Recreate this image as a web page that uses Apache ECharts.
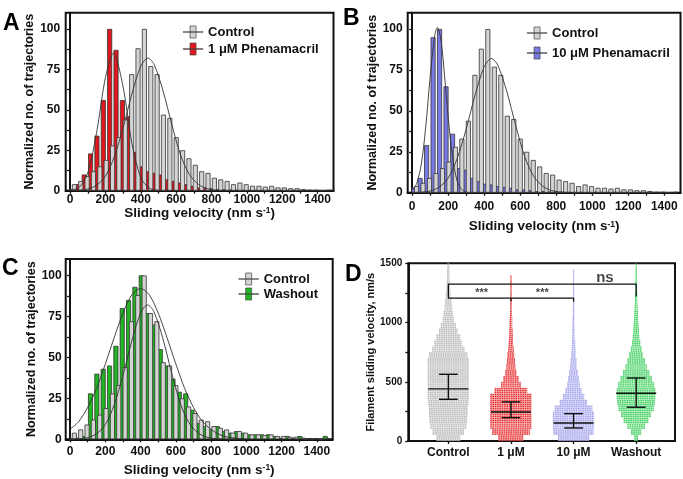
<!DOCTYPE html>
<html>
<head>
<meta charset="utf-8">
<script src="https://cdn.jsdelivr.net/npm/echarts@6/dist/echarts.min.js"></script>
<style>
  html, body { margin: 0; padding: 0; background: #fff; }
  #chart { width: 683px; height: 479px; }
</style>
</head>
<body>
<div id="chart"></div>
<script>
// histogram bin centres (nm/s), shared by panels A-C
const bins = [16, 52, 88, 124, 160, 196, 232, 268, 304, 340, 376, 412, 448, 484, 520, 556, 592, 628, 664, 700,
  736, 772, 808, 844, 880, 916, 952, 988, 1024, 1060, 1096, 1132, 1168, 1204, 1240, 1276, 1312, 1348, 1384, 1420, 1456];

const control = [4, 6, 9, 12, 15, 19, 28, 33, 44, 72, 88, 100, 77, 72, 47, 45, 33, 25, 20, 16,
  12, 11, 8, 7, 6, 4, 5, 4, 3, 3, 2.5, 3, 2, 2, 1.5, 1.5, 1, 0.5, 0.5, 0, 0.5];
const phen1 = [1, 4, 10, 23, 34, 56, 100, 87, 56, 46, 24, 15, 12, 11, 10, 7, 6, 5, 4, 3,
  2, 2, 1.5, 1, 1, 0.5, 0.5, 0.3, 0.3, 0, 0, 0, 0.3, 0, 0, 0, 0, 0, 0, 0, 0];
const phen10 = [3, 9, 29, 95, 100, 65, 36, 15, 14, 9, 7, 5.5, 5, 4, 3.5, 3, 2, 2, 1.5, 1,
  1, 0.5, 0.5, 0.3, 0.3, 0, 0, 0, 0, 0, 0, 0, 0, 0, 0, 0, 0, 0, 0, 0, 0];
const washout = [0, 1, 2, 28, 40, 43, 45, 57, 80, 85, 93, 100, 77, 70, 55, 45, 37, 29, 28, 18,
  10, 8, 6, 8, 5, 4, 5, 4, 3, 3, 3, 3, 2, 1, 2, 1, 2, 0, 0, 0, 2];

// gaussian fit curves [velocity, value]
const fitControl = [[0, 0.1], [50, 0.3], [100, 1], [150, 3.4], [200, 9], [250, 21], [300, 39], [350, 60], [400, 77],
  [440, 82], [475, 78], [525, 62], [575, 41], [625, 22], [675, 10], [725, 4], [775, 1.3], [850, 0.2], [950, 0]];
const fitPhen1 = [[0, 0.3], [50, 2], [100, 11], [150, 36], [200, 70], [245, 85], [300, 64], [350, 29], [400, 8], [450, 1.5], [500, 0.2]];
const fitPhen10 = [[0, 1.4], [25, 5.7], [50, 17], [75, 40], [100, 71], [125, 96], [140, 101], [160, 93], [180, 71],
  [200, 46], [225, 21], [250, 7], [275, 2], [300, 0.4]];
const fitWashout = [[0, 6], [50, 11], [100, 19.5], [150, 31], [200, 46], [250, 62], [300, 77], [350, 88], [400, 92],
  [450, 88], [500, 77], [550, 62], [600, 46], [650, 31], [700, 19.5], [750, 11], [800, 6], [850, 2.8], [900, 1.2], [1000, 0.2]];

const xTicks = [0, 100, 200, 300, 400, 500, 600, 700, 800, 900, 1000, 1100, 1200, 1300, 1400];
const xLabels = [0, 200, 400, 600, 800, 1000, 1200, 1400];
const yTicks = [0, 12.5, 25, 37.5, 50, 62.5, 75, 87.5, 100];
const yLabels = [0, 25, 50, 75, 100];

// panel D: swarm half-widths (category units) per 50 nm/s band
const groups = ['Control', '1 μM', '10 μM', 'Washout'];
const levels = [25, 75, 125, 175, 225, 275, 325, 375, 425, 475, 525, 575, 625, 675, 725, 775, 825, 875, 925, 975,
  1025, 1075, 1125, 1175, 1225, 1275, 1325, 1375, 1425, 1475];
const swarmControl = [0.19, 0.25, 0.29, 0.30, 0.31, 0.31, 0.32, 0.33, 0.33, 0.33, 0.33, 0.33, 0.33, 0.33, 0.31, 0.26,
  0.22, 0.19, 0.15, 0.12, 0.09, 0.075, 0.06, 0.05, 0.04, 0.03, 0.025, 0.02, 0.02, 0.015];
const swarm1 = [0.2, 0.3, 0.33, 0.33, 0.33, 0.33, 0.33, 0.33, 0.26, 0.16, 0.12, 0.09, 0.075, 0.065, 0.055, 0.045,
  0.035, 0.03, 0.025, 0.02, 0.02, 0.015, 0.012, 0.012, 0.01, 0.01, 0.01, 0.008, 0, 0];
const swarm10 = [0.25, 0.32, 0.33, 0.33, 0.33, 0.3, 0.22, 0.17, 0.13, 0.1, 0.085, 0.07, 0.055, 0.045, 0.035, 0.03,
  0.025, 0.02, 0.02, 0.015, 0.015, 0.012, 0.012, 0.01, 0.01, 0.01, 0.008, 0.008, 0.008, 0];
const swarmWash = [0.03, 0.08, 0.14, 0.2, 0.24, 0.28, 0.3, 0.31, 0.31, 0.29, 0.25, 0.21, 0.17, 0.14, 0.11, 0.085,
  0.065, 0.055, 0.045, 0.04, 0.035, 0.03, 0.025, 0.02, 0.02, 0.015, 0.015, 0.01, 0.01, 0.008];
// mean, mean-SD, mean+SD
const means = [440, 245, 152, 403];
const sdLow = [352, 197, 110, 285];
const sdHigh = [563, 330, 231, 532];
const bracketOuter = [[1, 1206], [1, 1325], [4, 1325], [4, 1220]];
const bracketInner = [[1, 1206], [3, 1206], [3, 1175]];
const bracketMid = [[2, 1206], [2, 1180]];
const sigLabels = [[1.53, 1250, '***'], [2.5, 1250, '***'], [3.5, 1378, 'ns']];

const FONT = '"Liberation Sans", Arial, sans-serif';
const INK = '#111';

const chart = echarts.init(document.getElementById('chart'), null, { renderer: 'canvas' });

function histX(gi, margin, nameGap) {
  return {
    gridIndex: gi, type: 'value', min: -25, max: 1490,
    name: 'Sliding velocity (nm s{sup|-1})', nameLocation: 'middle', nameGap: nameGap,
    nameTextStyle: { fontFamily: FONT, fontWeight: 'bold', fontSize: 13.5, color: INK,
      rich: { sup: { fontFamily: FONT, fontWeight: 'bold', fontSize: 8.5, color: INK, verticalAlign: 'top' } } },
    axisLine: { lineStyle: { color: INK, width: 2 } },
    axisTick: { show: true, length: 3, lineStyle: { color: INK, width: 1.3 }, customValues: xTicks },
    axisLabel: { customValues: xLabels, margin: margin, formatter: (v) => String(v),
      fontFamily: FONT, fontWeight: 'bold', fontSize: 12, color: INK },
    splitLine: { show: false }
  };
}

function histY(gi, margin, nameGap) {
  return {
    gridIndex: gi, type: 'value', min: 0, max: 110,
    name: 'Normalized no. of trajectories', nameLocation: 'middle', nameGap: nameGap,
    nameTextStyle: { fontFamily: FONT, fontWeight: 'bold', fontSize: 12.5, color: INK },
    axisLine: { lineStyle: { color: INK, width: 2 } },
    axisTick: { show: true, length: 3, lineStyle: { color: INK, width: 1.3 }, customValues: yTicks },
    axisLabel: { customValues: yLabels, margin: margin, formatter: (v) => String(v),
      fontFamily: FONT, fontWeight: 'bold', fontSize: 12, color: INK },
    splitLine: { show: false }
  };
}

function bars(name, values, color, gi) {
  return {
    name: name, type: 'bar', xAxisIndex: gi, yAxisIndex: gi,
    barWidth: 5, barGap: '-42%',
    itemStyle: { color: color, borderColor: '#333', borderWidth: 0.8 },
    data: bins.map((b, i) => [b, values[i]])
  };
}

function fit(points, gi) {
  return {
    type: 'line', xAxisIndex: gi, yAxisIndex: gi, smooth: 0.3, showSymbol: false, symbol: 'none',
    lineStyle: { color: '#333', width: 0.9 }, z: 5, silent: true,
    data: points
  };
}

function legend(names, left, top, gap) {
  return {
    data: names, orient: 'vertical', left: left, top: top, itemGap: gap, padding: 0,
    icon: 'path://M0,5.8H20V6.2H0Z M7,0H13V12H7Z', itemWidth: 20, itemHeight: 12,
    itemStyle: { borderColor: '#444', borderWidth: 0.7 },
    textStyle: { fontFamily: FONT, fontWeight: 'bold', fontSize: 13, color: INK }
  };
}

const swarmColors = [
  { fill: 'rgba(210,210,210,0.6)', dot: '#b8b8b8' },
  { fill: 'rgba(242,120,120,0.6)', dot: '#e42a2c' },
  { fill: 'rgba(195,195,245,0.6)', dot: '#a0a0ea' },
  { fill: 'rgba(130,228,150,0.6)', dot: '#3fcc5e' }
];

function swarm(gIdx, widths) {
  const col = swarmColors[gIdx];
  return {
    type: 'custom', xAxisIndex: 3, yAxisIndex: 3, silent: true,
    data: levels.map((lv, i) => [gIdx + 1, lv, widths[i]]),
    encode: { x: 0, y: 1 },
    renderItem: function (params, api) {
      const x = api.value(0), y = api.value(1), hw = api.value(2);
      if (!hw) return null;
      const p1 = api.coord([x - hw, y + 25]);
      const p2 = api.coord([x + hw, y - 25]);
      const w = Math.max(p2[0] - p1[0], 0.8);
      const x0 = (p1[0] + p2[0]) / 2 - w / 2;
      const children = [{
        type: 'rect', shape: { x: x0, y: p1[1], width: w, height: p2[1] - p1[1] },
        style: { fill: col.fill }
      }];
      for (let py = p1[1] + 1; py < p2[1]; py += 2) {
        children.push({
          type: 'line', shape: { x1: x0, y1: py, x2: x0 + w, y2: py },
          style: { stroke: col.dot, lineWidth: 1.2, lineDash: [1.4, 0.9] }
        });
      }
      return { type: 'group', children: children };
    }
  };
}

const option = {
  animation: false,
  backgroundColor: '#fff',
  grid: [
    { left: 65.7, right: 349.5, top: 12.7, bottom: 288.3, show: true, borderColor: INK, borderWidth: 2, backgroundColor: 'transparent' },
    { left: 407.7, right: 2.5, top: 12.7, bottom: 286.3, show: true, borderColor: INK, borderWidth: 2, backgroundColor: 'transparent' },
    { left: 65.7, right: 350.3, top: 259, bottom: 39.7, show: true, borderColor: INK, borderWidth: 2, backgroundColor: 'transparent' },
    { left: 408.3, right: 8, top: 263.3, bottom: 38, show: true, borderColor: INK, borderWidth: 2, backgroundColor: 'transparent' }
  ],
  xAxis: [
    histX(0, 3, 13),
    histX(1, 8, 27),
    histX(2, 6, 24),
    {
      gridIndex: 3, type: 'value', min: 0.36, max: 4.62,
      axisLine: { lineStyle: { color: INK, width: 2 } },
      axisTick: { show: true, length: 3, lineStyle: { color: INK, width: 1.3 }, customValues: [1, 2, 3, 4] },
      axisLabel: { customValues: [1, 2, 3, 4], margin: 6, formatter: (v) => groups[Math.round(v) - 1],
        fontFamily: FONT, fontWeight: 'bold', fontSize: 12, color: INK },
      splitLine: { show: false }
    }
  ],
  yAxis: [
    histY(0, 5.5, 26),
    histY(1, 5, 26),
    histY(2, 4, 25.5),
    {
      gridIndex: 3, type: 'value', min: 0, max: 1500, interval: 250,
      name: 'Filament sliding velocity, nm/s', nameLocation: 'middle', nameGap: 27,
      nameTextStyle: { fontFamily: FONT, fontWeight: 'bold', fontSize: 11, color: INK },
      axisLine: { lineStyle: { color: INK, width: 2 } },
      axisTick: { show: true, length: 3, lineStyle: { color: INK, width: 1.3 } },
      axisLabel: { margin: 6, formatter: (v) => (v % 500 === 0 ? String(v) : ''),
        fontFamily: FONT, fontWeight: 'bold', fontSize: 10, color: INK },
      splitLine: { show: false }
    }
  ],
  legend: [
    legend(['Control', '1 μM Phenamacril'], 182.7, 25.5, 4),
    legend(['Control', '10 μM Phenamacril'], 526.7, 26.5, 7),
    legend(['Control', 'Washout'], 238.3, 272.5, 2)
  ],
  graphic: [
    { type: 'text', left: 3, top: 12, style: { text: 'A', font: 'bold 23px ' + FONT, fill: '#000' } },
    { type: 'text', left: 343, top: 7, style: { text: 'B', font: 'bold 23px ' + FONT, fill: '#000' } },
    { type: 'text', left: 2, top: 257, style: { text: 'C', font: 'bold 23px ' + FONT, fill: '#000' } },
    { type: 'text', left: 345, top: 263, style: { text: 'D', font: 'bold 23px ' + FONT, fill: '#000' } }
  ],
  series: [
    bars('1 μM Phenamacril', phen1, '#e3181e', 0),
    bars('Control', control, '#d4d4d4', 0),
    fit(fitPhen1, 0),
    fit(fitControl, 0),

    bars('10 μM Phenamacril', phen10, '#7a7ae6', 1),
    bars('Control', control, '#d4d4d4', 1),
    fit(fitPhen10, 1),
    fit(fitControl, 1),

    bars('Washout', washout, '#21b521', 2),
    bars('Control', control, '#d4d4d4', 2),
    fit(fitWashout, 2),
    fit(fitControl, 2),

    swarm(0, swarmControl),
    swarm(1, swarm1),
    swarm(2, swarm10),
    swarm(3, swarmWash),
    {
      type: 'custom', xAxisIndex: 3, yAxisIndex: 3, silent: true, z: 6,
      data: means.map((m, i) => [i + 1, m, sdLow[i], sdHigh[i]]),
      encode: { x: 0, y: 1 },
      renderItem: function (params, api) {
        const x = api.value(0);
        const c = api.coord([x, api.value(1)]);
        const lo = api.coord([x, api.value(2)]);
        const hi = api.coord([x, api.value(3)]);
        const half = api.size([0.32, 0])[0];
        const cap = api.size([0.15, 0])[0];
        const st = { stroke: '#111', lineWidth: 1.4 };
        return {
          type: 'group', children: [
            { type: 'line', shape: { x1: c[0] - half, y1: c[1], x2: c[0] + half, y2: c[1] }, style: st },
            { type: 'line', shape: { x1: c[0], y1: hi[1], x2: c[0], y2: lo[1] }, style: st },
            { type: 'line', shape: { x1: c[0] - cap, y1: hi[1], x2: c[0] + cap, y2: hi[1] }, style: st },
            { type: 'line', shape: { x1: c[0] - cap, y1: lo[1], x2: c[0] + cap, y2: lo[1] }, style: st }
          ]
        };
      }
    },
    ...[bracketOuter, bracketInner, bracketMid].map((pts) => ({
      type: 'line', xAxisIndex: 3, yAxisIndex: 3, symbol: 'none', silent: true, z: 6,
      lineStyle: { color: '#111', width: 1.3 }, data: pts
    })),
    {
      type: 'scatter', xAxisIndex: 3, yAxisIndex: 3, symbolSize: 0, silent: true, z: 7,
      data: sigLabels.map((s) => ({
        value: [s[0], s[1]],
        label: { show: true, position: 'inside', formatter: s[2], fontFamily: FONT, fontWeight: 'bold',
          fontSize: s[2] === 'ns' ? 15 : 11, color: INK }
      }))
    }
  ]
};

chart.setOption(option);
</script>
</body>
</html>
